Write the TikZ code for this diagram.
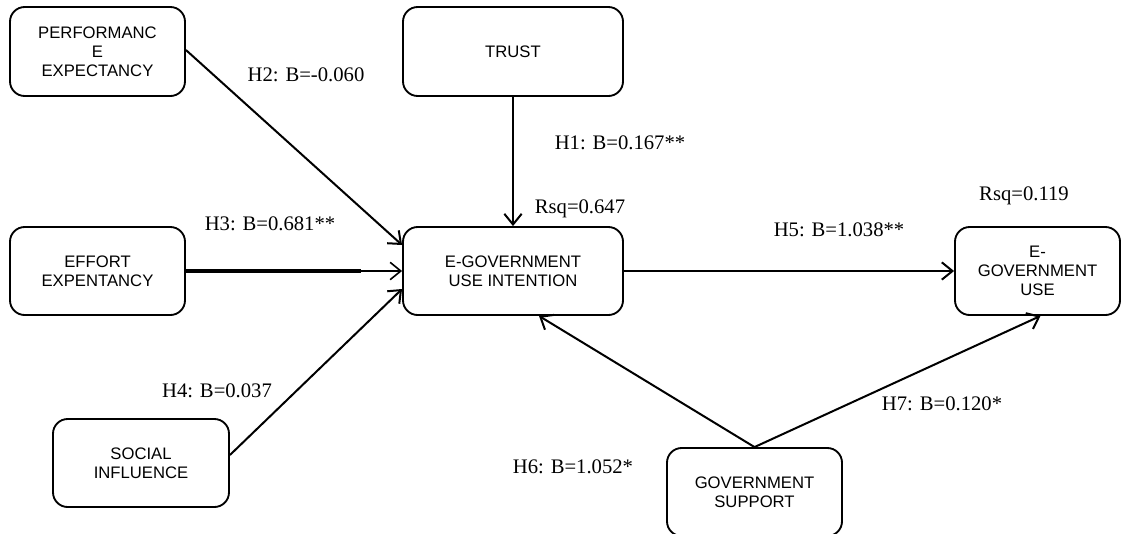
\documentclass[tikz,border=0pt]{standalone}
\usepackage{fontspec}
\setmainfont{Liberation Serif}
\setsansfont{Liberation Sans}
\usetikzlibrary{calc,arrows.meta}

\tikzset{
  construct/.style={draw, line width=1.4pt, rounded corners=11pt, align=center,
    inner sep=0pt, font=\sffamily\fontsize{12.5}{14.3}\selectfont},
  bsize/.style 2 args={minimum width=#1*0.75pt, minimum height=#2*0.75pt},
  coef/.style={inner sep=0pt, font=\fontsize{15.5}{18}\selectfont},
  path/.style={line width=1.5pt, -{Straight Barb[length=8pt,width=13pt]}},
}

\begin{document}
\begin{tikzpicture}[x=0.75pt,y=-0.75pt]
  \useasboundingbox (0,0) rectangle (1121,533);

  % constructs of the model
  \node[construct, bsize={175}{89}] (perf)  at (97.5,51.5) {PERFORMANC\\E\\EXPECTANCY};
  \node[construct, bsize={220}{89}] (trust) at (513,51.5) {TRUST};
  \node[construct, bsize={175}{88}] (eff)   at (97.5,271) {EFFORT\\EXPENTANCY};
  \node[construct, bsize={220}{88}] (egi)   at (513,271) {E-GOVERNMENT\\USE INTENTION};
  \node[construct, bsize={165}{88}] (egu)   at (1037.5,271) {E-\\GOVERNMENT\\USE};
  \node[construct, bsize={176}{88}] (soc)   at (141,463) {SOCIAL\\INFLUENCE};
  \node[construct, bsize={175}{88}] (gs)    at (754.5,492) {GOVERNMENT\\SUPPORT};

  % paths
  \draw[path] (trust.south) -- (egi.north);
  \draw[path] ($(perf.east)+(0,-1.5)$) -- ($(egi.west)+(0,-26)$);
  \coordinate (effmid) at ($(egi.west)+(-41,0)$);
  \draw[line width=3pt] (eff.east) -- (effmid);
  \draw[path, line width=1.2pt] (effmid) -- (egi.west);
  \draw[path] ($(soc.east)+(0,-8)$) -- ($(egi.west)+(0,18)$);
  \draw[path] (egi.east) -- (egu.west);
  \draw[path] (gs.north) -- ($(egi.south)+(26,0)$);
  \draw[path] (gs.north) -- ($(egu.south)+(3,0)$);

  % path coefficients and explained variance
  \node[coef] (h1) at (620,143) {H1: B=0.167**};
  \node[coef] (h2) at (306,75)  {H2: B=-0.060};
  \node[coef] (h3) at (270,224) {H3: B=0.681**};
  \node[coef] (h4) at (217,391) {H4: B=0.037};
  \node[coef] (h5) at (839,230) {H5: B=1.038**};
  \node[coef] (h6) at (573,467) {H6: B=1.052*};
  \node[coef] (h7) at (942,404) {H7: B=0.120*};
  \node[coef] (r1) at (580,209) {Rsq=0.647};
  \node[coef] (r2) at (1024,196) {Rsq=0.119};
\end{tikzpicture}
\end{document}
